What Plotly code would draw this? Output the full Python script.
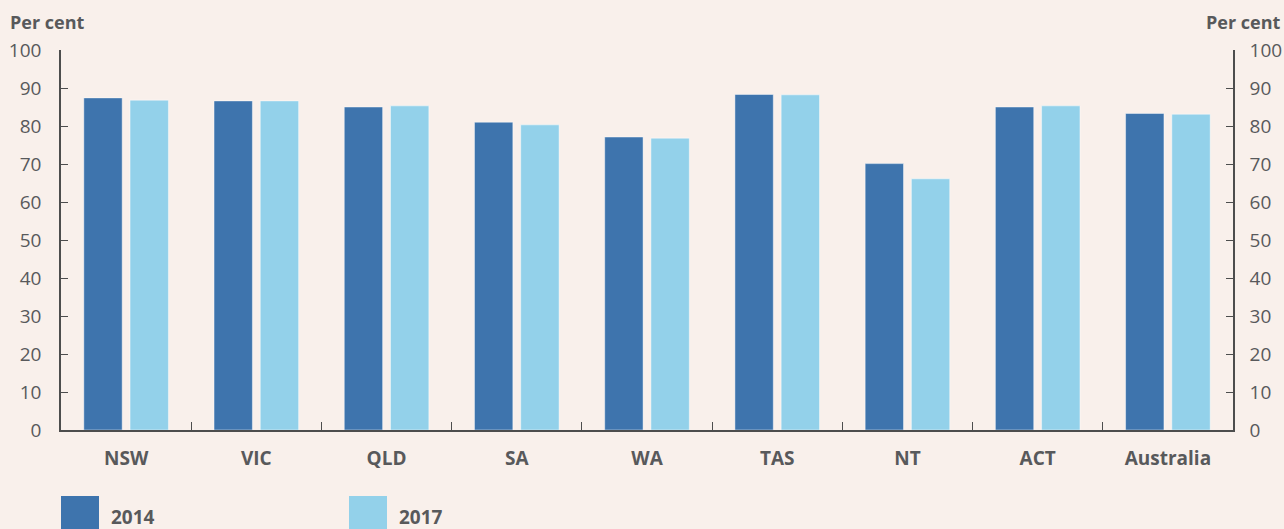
import plotly.graph_objects as go

categories = ["NSW", "VIC", "QLD", "SA", "WA", "TAS", "NT", "ACT", "Australia"]
series_names = ["2014", "2017"]
values_2014 = [87.4, 86.6, 85.0, 81.0, 77.1, 88.3, 70.1, 85.0, 83.3]
values_2017 = [86.8, 86.6, 85.3, 80.3, 76.8, 88.2, 66.1, 85.3, 83.1]
y_ticks = [0, 10, 20, 30, 40, 50, 60, 70, 80, 90, 100]

colors = ["#3e74ad", "#93d1ea"]
bg = "#f9f0eb"
txt = "#58595b"
font_family = "'Open Sans', Lato, sans-serif"

W, H = 1284, 529
ML, MR, MT, MB = 61, 51, 50, 99
PW, PH = W - ML - MR, H - MT - MB

fig = go.Figure()
for name, vals, col in zip(series_names, [values_2014, values_2017], colors):
    fig.add_trace(go.Bar(
        x=categories, y=vals, name=name,
        marker=dict(color=col, line=dict(color="rgba(255,255,255,0.45)", width=1)),
        showlegend=False,
    ))
# invisible trace to activate right axis
fig.add_trace(go.Scatter(x=[categories[0]], y=[0], yaxis="y2", mode="markers",
                         marker=dict(opacity=0), showlegend=False, hoverinfo="skip"))

axis_line = "#4d4d4d"
fig.update_layout(
    width=W, height=H,
    paper_bgcolor=bg, plot_bgcolor=bg,
    margin=dict(l=ML, r=MR, t=MT, b=MB, autoexpand=False),
    barmode="group", bargap=0.29, bargroupgap=0.17,
    font=dict(family=font_family, color=txt, size=19),
    xaxis=dict(
        type="category", tickson="boundaries", ticks="inside", ticklen=8,
        tickcolor=axis_line, showline=True, linecolor=axis_line, linewidth=1.5,
        showgrid=False, tickfont=dict(size=19, color=txt, weight="bold"),
        ticklabelstandoff=10, automargin=False,
    ),
    yaxis=dict(
        range=[0, 100], tickvals=y_ticks, ticks="inside", ticklen=7,
        tickcolor=axis_line, showline=True, linecolor=axis_line, linewidth=1.5,
        showgrid=False, zeroline=False, tickfont=dict(size=19, color=txt),
        ticklabelstandoff=14, automargin=False,
    ),
    yaxis2=dict(
        range=[0, 100], tickvals=y_ticks, ticks="inside", ticklen=7,
        tickcolor=axis_line, showline=True, linecolor=axis_line, linewidth=1.5,
        showgrid=False, zeroline=False, overlaying="y", side="right",
        tickfont=dict(size=19, color=txt), ticklabelstandoff=11, automargin=False,
    ),
)

# axis titles
fig.add_annotation(text="<b>Per cent</b>", xref="paper", yref="paper", x=0, y=1,
                   xanchor="left", yanchor="bottom", xshift=-53, yshift=14,
                   showarrow=False, font=dict(size=18, color=txt))
fig.add_annotation(text="<b>Per cent</b>", xref="paper", yref="paper", x=1, y=1,
                   xanchor="right", yanchor="bottom", xshift=50, yshift=14,
                   showarrow=False, font=dict(size=18, color=txt))

# custom legend with large square keys (pixel positions converted to paper coords)
def px_x(p):
    return (p - ML) / PW

def px_y(p):
    return (H - MB - p) / PH

legend_x = [61, 349]
for lx, name, col in zip(legend_x, series_names, colors):
    fig.add_shape(type="rect", xref="paper", yref="paper",
                  x0=px_x(lx), x1=px_x(lx + 38), y0=px_y(535), y1=px_y(496),
                  line=dict(width=0), fillcolor=col, layer="above")
    fig.add_annotation(text="<b>" + name + "</b>", xref="paper", yref="paper",
                       x=px_x(lx + 48), y=px_y(517),
                       xanchor="left", yanchor="middle", showarrow=False,
                       font=dict(size=19, color=txt))

fig.write_html("out.html", config={"displayModeBar": False},
               post_script="document.body.style.margin='0';")
